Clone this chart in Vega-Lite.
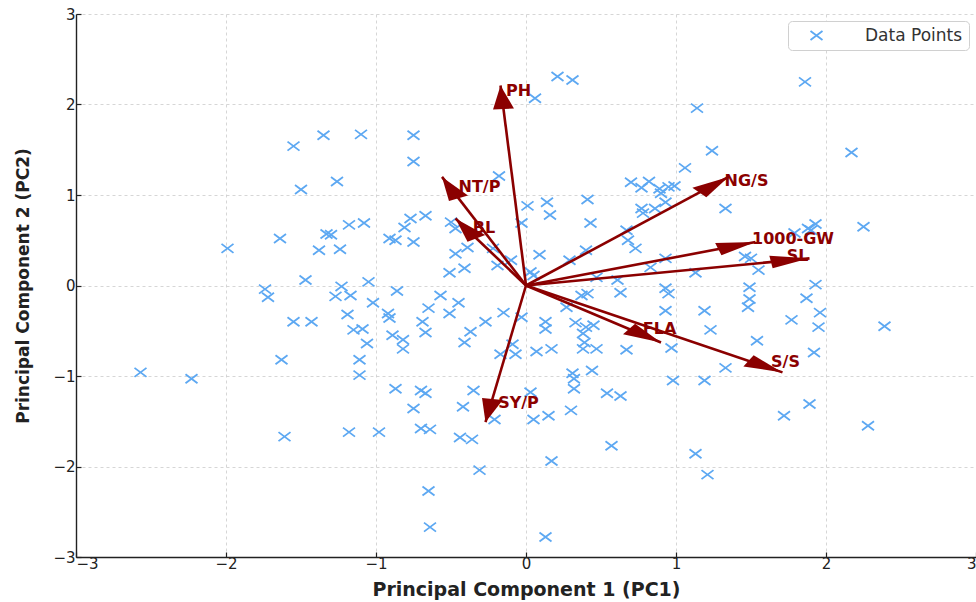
{
  "$schema": "https://vega.github.io/schema/vega-lite/v6.json",
  "width": 900,
  "height": 543,
  "autosize": {"type": "none"},
  "padding": {"left": 76, "top": 14, "right": 0, "bottom": 45},
  "background": "white",
  "config": {
    "view": {"stroke": null},
    "font": "DejaVu Sans",
    "axis": {
      "labelFont": "DejaVu Sans",
      "labelFontSize": 15,
      "labelColor": "#222222",
      "titleFont": "DejaVu Sans",
      "titleFontWeight": "bold",
      "titleColor": "#222222",
      "domainColor": "#222222",
      "domainWidth": 1.4,
      "tickColor": "#222222",
      "tickSize": -5,
      "tickWidth": 1.2,
      "grid": true,
      "gridColor": "#cccccc",
      "gridDash": [3, 3],
      "gridWidth": 0.8
    }
  },
  "datasets": {
    "scores": [
      {"pc1": 0.21, "pc2": 2.31}, {"pc1": 0.31, "pc2": 2.27}, {"pc1": 0.06, "pc2": 2.07}, {"pc1": 1.86, "pc2": 2.25},
      {"pc1": 1.14, "pc2": 1.96}, {"pc1": 1.24, "pc2": 1.49}, {"pc1": 2.17, "pc2": 1.47}, {"pc1": -1.55, "pc2": 1.54},
      {"pc1": -1.35, "pc2": 1.66}, {"pc1": -1.10, "pc2": 1.67}, {"pc1": -0.75, "pc2": 1.66}, {"pc1": -0.75, "pc2": 1.37},
      {"pc1": -1.50, "pc2": 1.06}, {"pc1": -1.26, "pc2": 1.15}, {"pc1": -0.18, "pc2": 1.21}, {"pc1": 1.06, "pc2": 1.30},
      {"pc1": 0.70, "pc2": 1.14}, {"pc1": 0.77, "pc2": 1.08}, {"pc1": 0.82, "pc2": 1.15}, {"pc1": 0.89, "pc2": 1.07},
      {"pc1": 0.95, "pc2": 1.09}, {"pc1": 0.90, "pc2": 1.02}, {"pc1": 0.99, "pc2": 1.10},
      {"pc1": -1.99, "pc2": 0.41}, {"pc1": -1.64, "pc2": 0.52}, {"pc1": -1.33, "pc2": 0.57}, {"pc1": -1.30, "pc2": 0.56},
      {"pc1": -1.18, "pc2": 0.67}, {"pc1": -1.08, "pc2": 0.69}, {"pc1": -1.38, "pc2": 0.39}, {"pc1": -1.24, "pc2": 0.40},
      {"pc1": -1.47, "pc2": 0.06}, {"pc1": -1.23, "pc2": -0.01}, {"pc1": -1.74, "pc2": -0.04}, {"pc1": -1.72, "pc2": -0.13},
      {"pc1": -1.27, "pc2": -0.12}, {"pc1": -1.17, "pc2": -0.11}, {"pc1": -1.05, "pc2": 0.04}, {"pc1": -1.02, "pc2": -0.19},
      {"pc1": -1.55, "pc2": -0.40}, {"pc1": -1.43, "pc2": -0.40}, {"pc1": -1.19, "pc2": -0.32}, {"pc1": -1.15, "pc2": -0.49},
      {"pc1": -1.09, "pc2": -0.48}, {"pc1": -1.06, "pc2": -0.64}, {"pc1": -1.63, "pc2": -0.82}, {"pc1": -1.11, "pc2": -0.82},
      {"pc1": -1.11, "pc2": -0.99}, {"pc1": -2.57, "pc2": -0.96}, {"pc1": -2.23, "pc2": -1.03},
      {"pc1": -1.61, "pc2": -1.67}, {"pc1": -1.18, "pc2": -1.62}, {"pc1": -0.98, "pc2": -1.62},
      {"pc1": -0.77, "pc2": 0.74}, {"pc1": -0.67, "pc2": 0.77}, {"pc1": -0.81, "pc2": 0.64}, {"pc1": -0.91, "pc2": 0.52},
      {"pc1": -0.87, "pc2": 0.50}, {"pc1": -0.75, "pc2": 0.48}, {"pc1": -0.50, "pc2": 0.70}, {"pc1": -0.47, "pc2": 0.63},
      {"pc1": -0.39, "pc2": 0.42}, {"pc1": -0.47, "pc2": 0.35}, {"pc1": -0.51, "pc2": 0.14}, {"pc1": -0.41, "pc2": 0.19},
      {"pc1": -0.22, "pc2": 0.41}, {"pc1": -0.19, "pc2": 0.22}, {"pc1": -0.10, "pc2": 0.28}, {"pc1": -0.86, "pc2": -0.06},
      {"pc1": -0.92, "pc2": -0.31}, {"pc1": -0.91, "pc2": -0.36}, {"pc1": -0.89, "pc2": -0.55}, {"pc1": -0.82, "pc2": -0.60},
      {"pc1": -0.82, "pc2": -0.70}, {"pc1": -0.57, "pc2": -0.11}, {"pc1": -0.65, "pc2": -0.25}, {"pc1": -0.69, "pc2": -0.40},
      {"pc1": -0.67, "pc2": -0.52}, {"pc1": -0.51, "pc2": -0.31}, {"pc1": -0.45, "pc2": -0.19}, {"pc1": -0.27, "pc2": -0.40},
      {"pc1": -0.15, "pc2": -0.30}, {"pc1": -0.37, "pc2": -0.51}, {"pc1": -0.41, "pc2": -0.63}, {"pc1": -0.17, "pc2": -0.76},
      {"pc1": -0.07, "pc2": -0.76}, {"pc1": -0.09, "pc2": -0.65}, {"pc1": -0.03, "pc2": -0.35},
      {"pc1": 0.01, "pc2": 0.88}, {"pc1": 0.14, "pc2": 0.92}, {"pc1": 0.16, "pc2": 0.78}, {"pc1": 0.41, "pc2": 0.95},
      {"pc1": 0.43, "pc2": 0.69}, {"pc1": 0.77, "pc2": 0.85}, {"pc1": 0.78, "pc2": 0.80}, {"pc1": 0.86, "pc2": 0.85},
      {"pc1": 0.93, "pc2": 0.92}, {"pc1": -0.03, "pc2": 0.69}, {"pc1": 0.67, "pc2": 0.61}, {"pc1": 0.68, "pc2": 0.50},
      {"pc1": 0.73, "pc2": 0.41}, {"pc1": 0.09, "pc2": 0.34}, {"pc1": 0.29, "pc2": 0.28}, {"pc1": 0.40, "pc2": 0.39},
      {"pc1": 0.03, "pc2": 0.15}, {"pc1": 0.05, "pc2": 0.11}, {"pc1": 0.83, "pc2": 0.20}, {"pc1": 0.93, "pc2": 0.30},
      {"pc1": 0.47, "pc2": 0.09}, {"pc1": 0.61, "pc2": 0.06}, {"pc1": 0.63, "pc2": -0.08}, {"pc1": 0.37, "pc2": -0.11},
      {"pc1": 0.41, "pc2": -0.09}, {"pc1": 0.93, "pc2": -0.03}, {"pc1": 0.95, "pc2": -0.09}, {"pc1": 0.93, "pc2": -0.28},
      {"pc1": 0.27, "pc2": -0.24}, {"pc1": 0.13, "pc2": -0.40}, {"pc1": 0.13, "pc2": -0.48}, {"pc1": 0.33, "pc2": -0.41},
      {"pc1": 0.40, "pc2": -0.46}, {"pc1": 0.45, "pc2": -0.44}, {"pc1": 0.38, "pc2": -0.53}, {"pc1": 0.39, "pc2": -0.63},
      {"pc1": 0.38, "pc2": -0.70}, {"pc1": 0.47, "pc2": -0.70}, {"pc1": 0.67, "pc2": -0.71}, {"pc1": 0.17, "pc2": -0.70},
      {"pc1": 0.07, "pc2": -0.73}, {"pc1": 0.31, "pc2": -0.97}, {"pc1": 0.44, "pc2": -0.94}, {"pc1": 0.97, "pc2": -0.69},
      {"pc1": 1.33, "pc2": 0.85}, {"pc1": 1.79, "pc2": 0.58}, {"pc1": 1.88, "pc2": 0.63}, {"pc1": 1.93, "pc2": 0.68},
      {"pc1": 1.90, "pc2": 0.61}, {"pc1": 2.25, "pc2": 0.65}, {"pc1": 1.46, "pc2": 0.32}, {"pc1": 1.50, "pc2": 0.30},
      {"pc1": 1.13, "pc2": 0.14}, {"pc1": 1.55, "pc2": 0.17}, {"pc1": 1.93, "pc2": 0.01}, {"pc1": 1.49, "pc2": -0.02},
      {"pc1": 1.49, "pc2": -0.15}, {"pc1": 1.48, "pc2": -0.24}, {"pc1": 1.87, "pc2": -0.14}, {"pc1": 1.96, "pc2": -0.30},
      {"pc1": 1.19, "pc2": -0.28}, {"pc1": 1.77, "pc2": -0.38}, {"pc1": 1.95, "pc2": -0.46}, {"pc1": 1.23, "pc2": -0.49},
      {"pc1": 1.54, "pc2": -0.61}, {"pc1": 2.39, "pc2": -0.45}, {"pc1": 1.92, "pc2": -0.74}, {"pc1": 1.33, "pc2": -0.91},
      {"pc1": 0.98, "pc2": -1.05}, {"pc1": 1.19, "pc2": -1.05}, {"pc1": 1.72, "pc2": -1.44}, {"pc1": 1.89, "pc2": -1.31},
      {"pc1": 2.28, "pc2": -1.55}, {"pc1": 1.13, "pc2": -1.86}, {"pc1": 1.21, "pc2": -2.09},
      {"pc1": -0.87, "pc2": -1.14}, {"pc1": -0.70, "pc2": -1.16}, {"pc1": -0.67, "pc2": -1.19}, {"pc1": -0.35, "pc2": -1.16},
      {"pc1": -0.75, "pc2": -1.36}, {"pc1": -0.42, "pc2": -1.34}, {"pc1": -0.21, "pc2": -1.48}, {"pc1": -0.70, "pc2": -1.58},
      {"pc1": -0.64, "pc2": -1.59}, {"pc1": -0.44, "pc2": -1.68}, {"pc1": -0.36, "pc2": -1.70}, {"pc1": -0.31, "pc2": -2.04},
      {"pc1": -0.65, "pc2": -2.27}, {"pc1": -0.64, "pc2": -2.67}, {"pc1": 0.03, "pc2": -1.18}, {"pc1": 0.05, "pc2": -1.48},
      {"pc1": 0.15, "pc2": -1.44}, {"pc1": 0.30, "pc2": -1.38}, {"pc1": 0.32, "pc2": -1.14}, {"pc1": 0.32, "pc2": -1.03},
      {"pc1": 0.54, "pc2": -1.19}, {"pc1": 0.63, "pc2": -1.22}, {"pc1": 0.57, "pc2": -1.77}, {"pc1": 0.17, "pc2": -1.94},
      {"pc1": 0.13, "pc2": -2.78}
    ],
    "loadings": [
      {"trait": "PH", "pc1": -0.17, "pc2": 2.21, "lx": -0.05, "ly": 2.15},
      {"trait": "NT/P", "pc1": -0.56, "pc2": 1.20, "lx": -0.31, "ly": 1.09},
      {"trait": "BL", "pc1": -0.47, "pc2": 0.74, "lx": -0.28, "ly": 0.63},
      {"trait": "NG/S", "pc1": 1.35, "pc2": 1.20, "lx": 1.47, "ly": 1.16},
      {"trait": "1000-GW", "pc1": 1.53, "pc2": 0.48, "lx": 1.78, "ly": 0.515},
      {"trait": "SL", "pc1": 1.89, "pc2": 0.30, "lx": 1.81, "ly": 0.325},
      {"trait": "FLA", "pc1": 0.90, "pc2": -0.63, "lx": 0.89, "ly": -0.48},
      {"trait": "S/S", "pc1": 1.71, "pc2": -0.96, "lx": 1.73, "ly": -0.85},
      {"trait": "SY/P", "pc1": -0.27, "pc2": -1.51, "lx": -0.05, "ly": -1.30}
    ]
  },
  "layer": [
    {
      "data": {"name": "scores"},
      "mark": {
        "type": "point",
        "shape": "M-1,-0.75L1,0.75M-1,0.75L1,-0.75",
        "filled": false,
        "size": 144,
        "strokeWidth": 1.8,
        "opacity": 1
      },
      "encoding": {
        "x": {
          "field": "pc1", "type": "quantitative",
          "scale": {"domain": [-3, 3], "nice": false, "zero": false},
          "axis": {"values": [-3, -2, -1, 0, 1, 2, 3], "format": "d", "title": "Principal Component 1 (PC1)", "titleFontSize": 19, "titlePadding": 9, "labelPadding": 4}
        },
        "y": {
          "field": "pc2", "type": "quantitative",
          "scale": {"domain": [-3, 3], "nice": false, "zero": false},
          "axis": {"values": [-3, -2, -1, 0, 1, 2, 3], "format": "d", "title": "Principal Component 2 (PC2)", "titleFontSize": 17, "titlePadding": 20, "labelPadding": 6}
        },
        "color": {
          "datum": "Data Points",
          "type": "nominal",
          "scale": {"range": ["#5DA8F2"]},
          "legend": {
            "title": null,
            "orient": "top-right",
            "offset": 7,
            "padding": 6,
            "cornerRadius": 4,
            "strokeColor": "#d0d0d0",
            "fillColor": "white",
            "labelFont": "DejaVu Sans",
            "labelFontSize": 17,
            "labelColor": "#333333",
            "labelOffset": 40,
            "symbolOffset": 14,
            "symbolType": "M-1,-0.75L1,0.75M-1,0.75L1,-0.75",
            "symbolSize": 144,
            "symbolStrokeWidth": 1.8,
            "symbolFillColor": "transparent",
            "symbolStrokeColor": "#5DA8F2"
          }
        }
      }
    },
    {
      "data": {"name": "loadings"},
      "mark": {"type": "rule", "color": "#8B0000", "strokeWidth": 2.6},
      "encoding": {
        "x": {"field": "pc1", "type": "quantitative"},
        "y": {"field": "pc2", "type": "quantitative"},
        "x2": {"datum": 0},
        "y2": {"datum": 0}
      }
    },
    {
      "data": {"name": "loadings"},
      "transform": [
        {"calculate": "sqrt(datum.pc1*datum.pc1 + datum.pc2*datum.pc2)", "as": "len"},
        {"calculate": "datum.pc1/datum.len", "as": "ux"},
        {"calculate": "datum.pc2/datum.len", "as": "uy"},
        {"calculate": "-0.26*datum.ux*150", "as": "bx"},
        {"calculate": "0.26*datum.uy*90.5", "as": "by"},
        {"calculate": "-0.07*datum.uy*150", "as": "px"},
        {"calculate": "-0.07*datum.ux*90.5", "as": "py"},
        {"calculate": "'M0,0L' + (datum.bx + datum.px) + ',' + (datum.by + datum.py) + 'L' + (datum.bx - datum.px) + ',' + (datum.by - datum.py) + 'Z'", "as": "head"}
      ],
      "mark": {"type": "point", "filled": true, "size": 4, "color": "#8B0000", "opacity": 1, "strokeWidth": 0},
      "encoding": {
        "x": {"field": "pc1", "type": "quantitative"},
        "y": {"field": "pc2", "type": "quantitative"},
        "shape": {"field": "head", "type": "nominal", "scale": null, "legend": null}
      }
    },
    {
      "data": {"name": "loadings"},
      "mark": {"type": "text", "color": "#8B0000", "font": "DejaVu Sans", "fontWeight": "bold", "fontSize": 16, "align": "center", "baseline": "middle"},
      "encoding": {
        "x": {"field": "lx", "type": "quantitative"},
        "y": {"field": "ly", "type": "quantitative"},
        "text": {"field": "trait"}
      }
    }
  ]
}
